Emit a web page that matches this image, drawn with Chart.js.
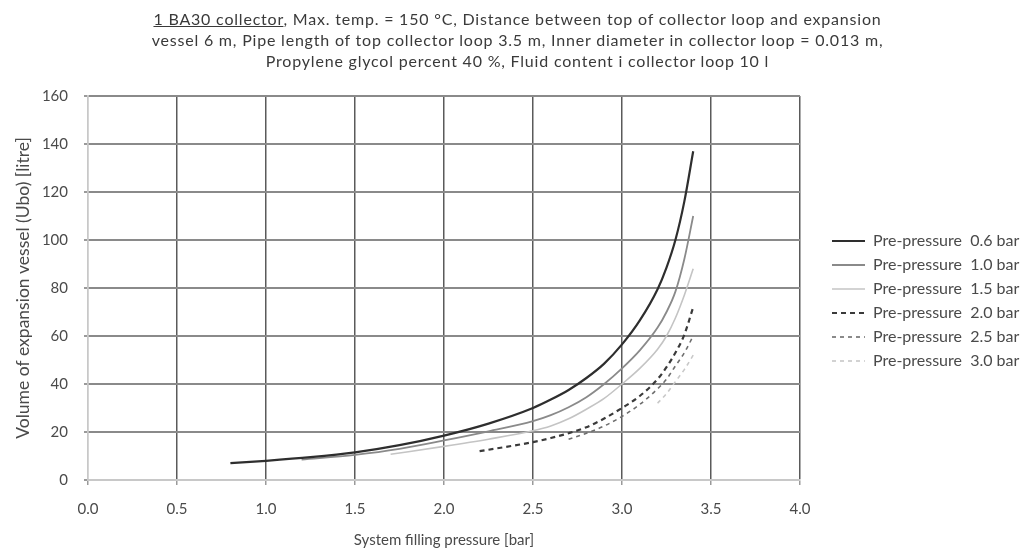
<!DOCTYPE html>
<html>
<head>
<meta charset="utf-8">
<script src="https://cdn.jsdelivr.net/npm/chart.js@4/dist/chart.umd.min.js"></script>
<style>
html,body{margin:0;padding:0;background:#fff;}
#wrap{position:relative;width:1021px;height:554px;overflow:hidden;}
#c{position:absolute;left:0;top:0;}
#title{position:absolute;left:7px;top:8px;width:1021px;text-align:center;font-family:Lato,sans-serif;font-size:16px;letter-spacing:0.8px;line-height:21px;color:#3a3a3a;}
</style>
</head>
<body>
<div id="wrap">
<canvas id="c" width="1021" height="554"></canvas>
<div id="title"><u>1 BA30 collector</u>, Max. temp. = 150 °C, Distance between top of collector loop and expansion<br>vessel 6 m, Pipe length of top collector loop 3.5 m, Inner diameter in collector loop = 0.013 m,<br>Propylene glycol percent 40 %, Fluid content i collector loop 10 l</div>
</div>
<script>
// Series (x = system filling pressure [bar], y = volume [litre])
const seriesNames = ['Pre-pressure  0.6 bar','Pre-pressure  1.0 bar','Pre-pressure  1.5 bar','Pre-pressure  2.0 bar','Pre-pressure  2.5 bar','Pre-pressure  3.0 bar'];

const x06 = [0.8, 1.0, 1.25, 1.5, 1.75, 2.0, 2.25, 2.5, 2.6, 2.7, 2.8, 2.9, 3.0, 3.1, 3.2, 3.25, 3.3, 3.35, 3.4];
const v06 = [7, 8, 9.5, 11.5, 14.5, 18.5, 23.5, 30, 33.5, 37.5, 42.5, 48.5, 56.5, 66.5, 79.5, 88.5, 100, 116, 137];

const x10 = [1.2, 1.5, 1.75, 2.0, 2.25, 2.5, 2.6, 2.7, 2.8, 2.9, 3.0, 3.1, 3.2, 3.25, 3.3, 3.35, 3.4];
const v10 = [8.5, 10.5, 13, 16.5, 20.3, 24.5, 27, 30.3, 34.5, 40, 46.5, 54, 63.5, 70, 78.5, 92, 110];

const x15 = [1.7, 2.0, 2.25, 2.5, 2.6, 2.7, 2.8, 2.9, 3.0, 3.1, 3.2, 3.25, 3.3, 3.35, 3.4];
const v15 = [10.7, 14, 17, 20.5, 22.5, 25.5, 29.5, 34, 40, 46.5, 54.5, 60, 67.5, 77, 88];

const x20 = [2.2, 2.5, 2.6, 2.7, 2.8, 2.9, 3.0, 3.1, 3.2, 3.25, 3.3, 3.35, 3.4];
const v20 = [12, 15.8, 17.5, 19.5, 22, 25.6, 30, 35, 42, 47, 53, 60.5, 72];

const x25 = [2.7, 2.8, 2.9, 3.0, 3.1, 3.2, 3.25, 3.3, 3.35, 3.4];
const v25 = [17, 19.5, 22.5, 26.5, 31.5, 38, 42, 47.5, 53, 60];

const x30 = [3.2, 3.25, 3.3, 3.35, 3.4];
const v30 = [32, 36, 41, 46, 52];

const xTicks = [0, 0.5, 1, 1.5, 2, 2.5, 3, 3.5, 4];
const yTicks = [0, 20, 40, 60, 80, 100, 120, 140, 160];

const xs = [x06, x10, x15, x20, x25, x30];
const vs = [v06, v10, v15, v20, v25, v30];
const colors = ['#2e2e2e', '#8a8a8a', '#c4c4c4', '#3a3a3a', '#6e6e6e', '#c8c8c8'];
const widths = [2.2, 1.8, 1.6, 2.2, 1.6, 1.6];
const dashes = [[], [], [], [5, 4], [4, 4], [4, 4]];

const datasets = seriesNames.map((n, i) => ({
  label: n,
  data: xs[i].map((x, j) => ({x: x, y: vs[i][j]})),
  borderColor: colors[i],
  backgroundColor: colors[i],
  borderWidth: widths[i],
  borderDash: dashes[i],
  pointRadius: 0,
  pointHoverRadius: 0,
  fill: false,
  cubicInterpolationMode: 'monotone'
}));

const FONT = 'Lato, sans-serif';
const TXT = '#4a4a4a';

new Chart(document.getElementById('c'), {
  type: 'line',
  data: {datasets},
  options: {
    responsive: false,
    animation: false,
    devicePixelRatio: 1,
    layout: {padding: {top: 96, left: 4, right: 0, bottom: 0}},
    plugins: {
      title: {display: false},
      tooltip: {enabled: false},
      legend: {
        position: 'right',
        align: 'start',
        maxWidth: 197,
        title: {display: true, text: ' ', font: {family: FONT, size: 10}, padding: {top: 0, bottom: 117}},
        labels: {
          usePointStyle: true,
          pointStyle: 'line',
          pointStyleWidth: 33,
          padding: 8,
          color: TXT,
          font: {family: FONT, size: 16},
          generateLabels: chart => chart.data.datasets.map((ds, i) => ({
            text: ds.label,
            fillStyle: ds.borderColor,
            strokeStyle: ds.borderColor,
            fontColor: TXT,
            lineWidth: ds.borderWidth,
            lineDash: ds.borderDash,
            lineCap: 'butt',
            pointStyle: 'line',
            hidden: false,
            datasetIndex: i
          }))
        }
      }
    },
    scales: {
      x: {
        type: 'linear',
        min: 0, max: 4,
        afterBuildTicks: s => { s.ticks = xTicks.map(v => ({value: v})); },
        afterFit: s => { s.height = 74; },
        ticks: {padding: 15, color: TXT, font: {family: FONT, size: 15}, callback: v => v.toFixed(1)},
        grid: {
          color: c => (c.tick && c.tick.value === 0) ? '#c8c8c8' : '#5a5a5a',
          lineWidth: 1.5,
          tickLength: 5,
          tickColor: '#9a9a9a'
        },
        border: {display: true, color: '#c8c8c8', width: 1.5},
        title: {display: true, text: 'System filling pressure [bar]', color: TXT, font: {family: FONT, size: 15}, padding: {top: 0, bottom: 5}}
      },
      y: {
        type: 'linear',
        min: 0, max: 160,
        afterBuildTicks: s => { s.ticks = yTicks.map(v => ({value: v})); },
        afterFit: s => { s.width = 84; },
        ticks: {padding: 16, color: TXT, font: {family: FONT, size: 15}},
        grid: {
          color: c => (c.tick && c.tick.value === 0) ? '#c8c8c8' : '#8a8a8a',
          lineWidth: 2,
          tickLength: 4,
          tickColor: '#9a9a9a'
        },
        border: {display: true, color: '#c8c8c8', width: 1.5},
        title: {display: true, text: 'Volume of expansion vessel (Ubo) [litre]', color: TXT, font: {family: FONT, size: 17.5}, padding: {top: 9, bottom: 0}}
      },
      spacer: {
        type: 'linear',
        position: 'right',
        display: true,
        grid: {display: false, drawTicks: false},
        border: {display: false},
        ticks: {display: false},
        afterFit: s => { s.width = 24; }
      }
    }
  }
});
</script>
</body>
</html>
